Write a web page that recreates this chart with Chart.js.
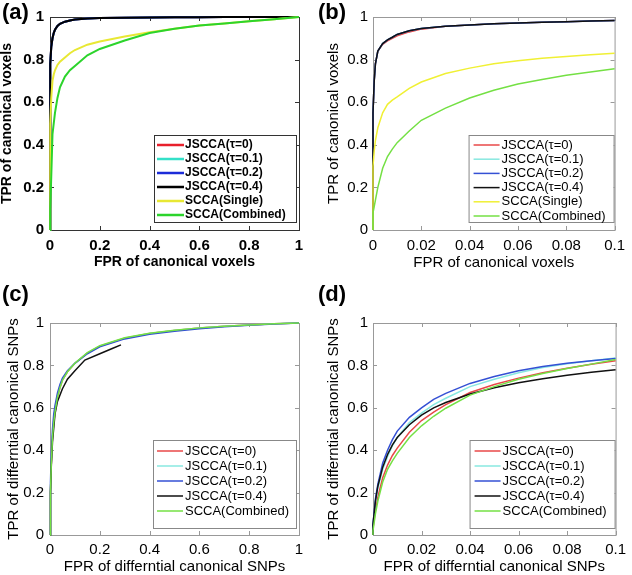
<!DOCTYPE html>
<html>
<head>
<meta charset="utf-8">
<script src="https://cdn.jsdelivr.net/npm/chart.js@4.4.1/dist/chart.umd.min.js"></script>
<style>
  body { margin: 0; background: #fff; }
  #wrap { position: relative; width: 632px; height: 575px; font-family: 'Liberation Sans', Arial, sans-serif; }
  canvas { position: absolute; }
  .tag { position: absolute; font-weight: bold; font-size: 22px; line-height: 22px; color: #000; }
</style>
</head>
<body>
<div id="wrap">
  <canvas id="chartA" width="316" height="287" style="left:0;top:0"></canvas>
  <canvas id="chartB" width="316" height="287" style="left:316px;top:0"></canvas>
  <canvas id="chartC" width="316" height="288" style="left:0;top:287px"></canvas>
  <canvas id="chartD" width="316" height="288" style="left:316px;top:287px"></canvas>
  <div class="tag" style="left:2px;top:1px">(a)</div>
  <div class="tag" style="left:318px;top:1px">(b)</div>
  <div class="tag" style="left:2px;top:283px">(c)</div>
  <div class="tag" style="left:318px;top:283px">(d)</div>
</div>
<script>
// ---- legend labels ----
const labelsSix = ['JSCCA(τ=0)', 'JSCCA(τ=0.1)', 'JSCCA(τ=0.2)', 'JSCCA(τ=0.4)', 'SCCA(Single)', 'SCCA(Combined)'];
const labelsFive = ['JSCCA(τ=0)', 'JSCCA(τ=0.1)', 'JSCCA(τ=0.2)', 'JSCCA(τ=0.4)', 'SCCA(Combined)'];

// ---- panel (a): voxels, full range ----
const aFpr       = [0, 0, 0.001, 0.002, 0.005, 0.01, 0.015, 0.02, 0.03, 0.04, 0.06, 0.08, 0.1, 0.15, 0.2, 0.3, 0.4, 0.5, 0.6, 0.7, 0.8, 0.9, 1];
const aJscca     = [0, 0.55, 0.7, 0.78, 0.86, 0.9, 0.925, 0.94, 0.958, 0.968, 0.978, 0.984, 0.988, 0.993, 0.995, 0.997, 0.998, 0.999, 0.999, 1, 1, 1, 1];
const aSingle    = [0, 0.35, 0.43, 0.5, 0.62, 0.7, 0.73, 0.75, 0.775, 0.79, 0.81, 0.83, 0.845, 0.87, 0.885, 0.908, 0.928, 0.945, 0.96, 0.97, 0.98, 0.99, 1];
const aCombined  = [0, 0.02, 0.06, 0.1, 0.25, 0.45, 0.5, 0.55, 0.62, 0.67, 0.72, 0.75, 0.77, 0.82, 0.85, 0.89, 0.925, 0.945, 0.96, 0.97, 0.98, 0.99, 1];

// ---- panel (b): voxels, FPR up to 0.1 ----
const bFpr       = [0, 0, 0.0005, 0.001, 0.002, 0.004, 0.006, 0.008, 0.01, 0.015, 0.02, 0.03, 0.04, 0.05, 0.06, 0.07, 0.08, 0.09, 0.1];
const bJscca     = [0, 0.55, 0.7, 0.78, 0.84, 0.875, 0.893, 0.905, 0.918, 0.935, 0.946, 0.957, 0.963, 0.968, 0.972, 0.975, 0.978, 0.981, 0.983];
const bJscca0    = [0, 0.55, 0.7, 0.78, 0.84, 0.872, 0.888, 0.9, 0.912, 0.93, 0.943, 0.956, 0.963, 0.968, 0.972, 0.975, 0.978, 0.981, 0.983];
const bSingle    = [0, 0.3, 0.37, 0.42, 0.48, 0.55, 0.59, 0.61, 0.625, 0.665, 0.695, 0.735, 0.76, 0.78, 0.795, 0.806, 0.815, 0.823, 0.83];
const bCombined  = [0, 0.08, 0.11, 0.14, 0.2, 0.29, 0.345, 0.38, 0.41, 0.465, 0.515, 0.572, 0.62, 0.656, 0.685, 0.707, 0.726, 0.742, 0.757];

// ---- panel (c): SNPs, full range ----
const cFpr       = [0, 0.002, 0.005, 0.01, 0.015, 0.02, 0.03, 0.04, 0.05, 0.07, 0.1, 0.15, 0.2, 0.3, 0.4, 0.5, 0.6, 0.7, 0.8, 0.9, 1];
const cTau0      = [0, 0.2, 0.33, 0.46, 0.53, 0.58, 0.65, 0.695, 0.73, 0.77, 0.81, 0.858, 0.891, 0.928, 0.95, 0.965, 0.976, 0.985, 0.991, 0.996, 1];
const cTau01     = [0, 0.21, 0.34, 0.47, 0.54, 0.59, 0.655, 0.7, 0.733, 0.772, 0.811, 0.858, 0.891, 0.928, 0.95, 0.965, 0.976, 0.985, 0.991, 0.996, 1];
const cTau02     = [0, 0.25, 0.38, 0.5, 0.57, 0.61, 0.67, 0.71, 0.74, 0.775, 0.81, 0.855, 0.888, 0.925, 0.947, 0.961, 0.973, 0.982, 0.989, 0.995, 1];
const cCombined  = [0, 0.2, 0.33, 0.46, 0.53, 0.58, 0.65, 0.695, 0.73, 0.77, 0.81, 0.86, 0.893, 0.93, 0.952, 0.966, 0.977, 0.985, 0.991, 0.996, 1];
const cFprTau04  = [0, 0.002, 0.005, 0.01, 0.02, 0.03, 0.05, 0.07, 0.1, 0.14, 0.2, 0.25, 0.285];
const cTau04     = [0, 0.2, 0.32, 0.44, 0.57, 0.63, 0.69, 0.735, 0.775, 0.825, 0.855, 0.88, 0.897];

// ---- panel (d): SNPs, FPR up to 0.1 ----
const dFpr       = [0, 0, 0.001, 0.002, 0.004, 0.006, 0.008, 0.01, 0.015, 0.02, 0.025, 0.03, 0.04, 0.05, 0.06, 0.07, 0.08, 0.09, 0.1];
const dTau0      = [0, 0.03, 0.12, 0.18, 0.27, 0.33, 0.375, 0.41, 0.485, 0.54, 0.58, 0.615, 0.672, 0.71, 0.74, 0.765, 0.787, 0.805, 0.822];
const dTau01     = [0, 0.05, 0.15, 0.22, 0.31, 0.37, 0.42, 0.46, 0.53, 0.575, 0.615, 0.645, 0.7, 0.735, 0.765, 0.79, 0.808, 0.822, 0.835];
const dTau02     = [0, 0.05, 0.17, 0.24, 0.34, 0.4, 0.45, 0.49, 0.555, 0.6, 0.64, 0.668, 0.715, 0.748, 0.775, 0.795, 0.81, 0.822, 0.833];
const dTau04     = [0, 0.05, 0.16, 0.23, 0.32, 0.38, 0.425, 0.46, 0.52, 0.565, 0.6, 0.625, 0.665, 0.695, 0.718, 0.737, 0.753, 0.768, 0.78];
const dCombined  = [0, 0.02, 0.1, 0.16, 0.25, 0.31, 0.35, 0.385, 0.46, 0.515, 0.56, 0.598, 0.66, 0.7, 0.735, 0.762, 0.785, 0.806, 0.828];

// colours
const boldColors = ['#e8202c', '#34e0c8', '#1c2cd8', '#000000', '#e8e834', '#2cd42c'];
const thinColors = ['#e84848', '#88e8e0', '#3450d4', '#111111', '#f0f034', '#74e044'];

function pts(xs, ys) {
    return xs.map((x, i) => ({ x: x, y: ys[i] }));
}

// axes box with inward ticks on all four sides (matlab look)
const framePlugin = {
    id: 'frame',
    beforeDatasetsDraw(chart, args, opts) {
        const { ctx, chartArea: a, scales: { x, y } } = chart;
        const len = 4;
        ctx.save();
        ctx.strokeStyle = opts.color;
        ctx.lineWidth = 1;
        ctx.strokeRect(a.left + 0.5, a.top + 0.5, a.right - a.left, a.bottom - a.top);
        ctx.beginPath();
        x.ticks.forEach(t => {
            const px = Math.round(x.getPixelForValue(t.value)) + 0.5;
            ctx.moveTo(px, a.bottom); ctx.lineTo(px, a.bottom - len);
            ctx.moveTo(px, a.top); ctx.lineTo(px, a.top + len);
        });
        y.ticks.forEach(t => {
            const py = Math.round(y.getPixelForValue(t.value)) + 0.5;
            ctx.moveTo(a.left, py); ctx.lineTo(a.left + len, py);
            ctx.moveTo(a.right, py); ctx.lineTo(a.right - len, py);
        });
        ctx.stroke();
        ctx.restore();
    }
};

// boxed legend sitting in the lower right of the plot
const boxLegend = {
    id: 'boxLegend',
    afterDatasetsDraw(chart, args, o) {
        const { ctx, chartArea: a } = chart;
        const ds = chart.data.datasets;
        const right = a.right - o.right;
        const bottom = a.bottom - o.bottom;
        const left = right - o.width;
        const top = bottom - o.height;
        ctx.save();
        ctx.fillStyle = '#fff';
        ctx.fillRect(left, top, o.width, o.height);
        ctx.strokeStyle = o.border;
        ctx.lineWidth = 1;
        ctx.strokeRect(left + 0.5, top + 0.5, o.width, o.height);
        ctx.font = o.font;
        ctx.textBaseline = 'middle';
        ctx.textAlign = 'left';
        ds.forEach((d, i) => {
            const cy = top + o.firstY + o.rowH * i;
            ctx.strokeStyle = d.borderColor;
            ctx.lineWidth = o.lineW;
            ctx.beginPath();
            ctx.moveTo(left + o.lineX0, cy);
            ctx.lineTo(left + o.lineX1, cy);
            ctx.stroke();
            ctx.fillStyle = '#000';
            ctx.fillText(d.label, left + o.textX, cy);
        });
        ctx.restore();
    }
};

function makePanel(id, series, cfg) {
    const weight = cfg.bold ? 'bold' : 'normal';
    const datasets = series.map((s, i) => ({
        label: s.label,
        data: pts(s.x, s.y),
        borderColor: cfg.colors[i],
        backgroundColor: cfg.colors[i],
        borderWidth: cfg.lineW,
        pointRadius: 0,
        showLine: true,
        tension: 0,
        clip: 4,
        order: -i
    }));
    const fmt = v => String(+v.toFixed(3));
    return new Chart(document.getElementById(id), {
        type: 'scatter',
        data: { datasets: datasets },
        plugins: [framePlugin, boxLegend],
        options: {
            responsive: false,
            animation: false,
            events: [],
            layout: { padding: cfg.padding },
            plugins: {
                legend: { display: false },
                tooltip: { enabled: false },
                frame: { color: cfg.frame },
                boxLegend: cfg.legend
            },
            scales: {
                x: {
                    type: 'linear', min: 0, max: cfg.xMax,
                    afterFit: s => { s.height = cfg.xAxisH; },
                    grid: { display: false, drawTicks: false },
                    border: { display: false },
                    ticks: { stepSize: cfg.xStep, padding: cfg.xTickPad, maxRotation: 0, autoSkip: false,
                             color: '#000', font: { size: cfg.tickSize, weight: weight }, callback: fmt },
                    title: { display: true, text: cfg.xTitle, color: '#000',
                             font: { size: cfg.titleSize, weight: weight, lineHeight: 1 },
                             padding: { top: 0, bottom: cfg.xTitlePad } }
                },
                y: {
                    type: 'linear', min: 0, max: 1,
                    afterFit: s => { s.width = cfg.yAxisW; },
                    grid: { display: false, drawTicks: false },
                    border: { display: false },
                    ticks: { stepSize: 0.2, padding: cfg.yTickPad, autoSkip: false,
                             color: '#000', font: { size: cfg.tickSize, weight: weight }, callback: fmt },
                    title: { display: true, text: cfg.yTitle, color: '#000',
                             font: { size: cfg.titleSize, weight: weight, lineHeight: 1 },
                             padding: { top: cfg.yTitlePad, bottom: 0 } }
                }
            }
        }
    });
}

const legendBold = { right: 3, bottom: 8, width: 142, height: 87, firstY: 10, rowH: 14, lineX0: 3, lineX1: 30, textX: 31,
                     lineW: 2.5, border: '#333', font: 'bold 12px "Liberation Sans", Arial, sans-serif' };
const legendThinTop = { right: 1, bottom: 8, width: 145, height: 87, firstY: 10, rowH: 14.2, lineX0: 5, lineX1: 31, textX: 33,
                        lineW: 1.5, border: '#888', font: '13px "Liberation Sans", Arial, sans-serif' };
const legendThinBottom = { right: 3, bottom: 7, width: 143, height: 88, firstY: 11, rowH: 15, lineX0: 4, lineX1: 30, textX: 32,
                           lineW: 1.5, border: '#888', font: '13px "Liberation Sans", Arial, sans-serif' };
const legendThinBottomR = Object.assign({}, legendThinBottom, { right: 1, width: 145, lineX0: 5, lineX1: 31, textX: 33 });

makePanel('chartA', [
    { label: labelsSix[0], x: aFpr, y: aJscca },
    { label: labelsSix[1], x: aFpr, y: aJscca },
    { label: labelsSix[2], x: aFpr, y: aJscca },
    { label: labelsSix[3], x: aFpr, y: aJscca },
    { label: labelsSix[4], x: aFpr, y: aSingle },
    { label: labelsSix[5], x: aFpr, y: aCombined }
], {
    bold: true, colors: boldColors, lineW: 2, frame: '#333', xMax: 1, xStep: 0.2,
    padding: { left: 0, top: 17, right: 17, bottom: 0 }, xAxisH: 57, yAxisW: 50,
    tickSize: 15, titleSize: 14, xTickPad: 7, xTitlePad: 18, yTickPad: 6, yTitlePad: 0,
    xTitle: 'FPR of canonical voxels', yTitle: 'TPR of canonical voxels', legend: legendBold
});

makePanel('chartB', [
    { label: labelsSix[0], x: bFpr, y: bJscca0 },
    { label: labelsSix[1], x: bFpr, y: bJscca },
    { label: labelsSix[2], x: bFpr, y: bJscca },
    { label: labelsSix[3], x: bFpr, y: bJscca },
    { label: labelsSix[4], x: bFpr, y: bSingle },
    { label: labelsSix[5], x: bFpr, y: bCombined }
], {
    bold: false, colors: thinColors, lineW: 1.5, frame: '#999', xMax: 0.1, xStep: 0.02,
    padding: { left: 0, top: 17, right: 11, bottom: 0 }, xAxisH: 57, yAxisW: 57,
    tickSize: 15, titleSize: 15, xTickPad: 7, xTitlePad: 17, yTickPad: 5, yTitlePad: 10,
    xTitle: 'FPR of canonical voxels', yTitle: 'TPR of canonical voxels', legend: legendThinTop
});

makePanel('chartC', [
    { label: labelsFive[0], x: cFpr, y: cTau0 },
    { label: labelsFive[1], x: cFpr, y: cTau01 },
    { label: labelsFive[2], x: cFpr, y: cTau02 },
    { label: labelsFive[3], x: cFprTau04, y: cTau04 },
    { label: labelsFive[4], x: cFpr, y: cCombined }
], {
    bold: false, colors: [thinColors[0], thinColors[1], thinColors[2], thinColors[3], thinColors[5]], lineW: 1.5,
    frame: '#999', xMax: 1, xStep: 0.2,
    padding: { left: 0, top: 36, right: 17, bottom: 0 }, xAxisH: 40, yAxisW: 50,
    tickSize: 15, titleSize: 15, xTickPad: 6, xTitlePad: 1, yTickPad: 6, yTitlePad: 6,
    xTitle: 'FPR of differntial canonical SNPs', yTitle: 'TPR of differntial canonical SNPs', legend: legendThinBottom
});

makePanel('chartD', [
    { label: labelsFive[0], x: dFpr, y: dTau0 },
    { label: labelsFive[1], x: dFpr, y: dTau01 },
    { label: labelsFive[2], x: dFpr, y: dTau02 },
    { label: labelsFive[3], x: dFpr, y: dTau04 },
    { label: labelsFive[4], x: dFpr, y: dCombined }
], {
    bold: false, colors: [thinColors[0], thinColors[1], thinColors[2], thinColors[3], thinColors[5]], lineW: 1.5,
    frame: '#999', xMax: 0.1, xStep: 0.02,
    padding: { left: 0, top: 36, right: 11, bottom: 0 }, xAxisH: 40, yAxisW: 57,
    tickSize: 15, titleSize: 15, xTickPad: 6, xTitlePad: 1, yTickPad: 5, yTitlePad: 10,
    xTitle: 'FPR of differntial canonical SNPs', yTitle: 'TPR of differntial canonical SNPs', legend: legendThinBottomR
});
</script>
</body>
</html>
